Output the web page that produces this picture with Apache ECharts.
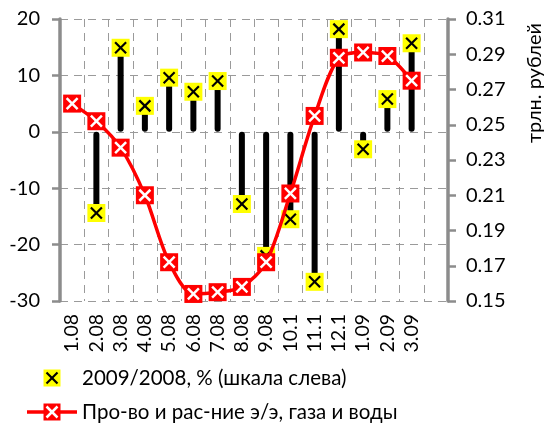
<!DOCTYPE html>
<html>
<head>
<meta charset="utf-8">
<script src="https://cdn.jsdelivr.net/npm/echarts@6/dist/echarts.min.js"></script>
<style>
  html, body { margin: 0; padding: 0; background: #fff; }
  #chart { width: 545px; height: 425px; }
</style>
</head>
<body>
<div id="chart"></div>
<script>
// Months (the last slot is an empty category, as in the original layout)
const months = ['1.08', '2.08', '3.08', '4.08', '5.08', '6.08', '7.08', '8.08',
                '9.08', '10.1', '11.1', '12.1', '1.09', '2.09', '3.09', ''];

// Year-over-year change, % (left scale)
const yoyPercent = [null, -14.4, 14.9, 4.6, 9.6, 7.1, 9.0, -12.8,
                    -22.0, -15.5, -26.6, 18.2, -3.1, 5.8, 15.7, null];

// Production and distribution of electricity, gas and water, trillion roubles (right scale)
const output = [0.262, 0.252, 0.237, 0.210, 0.172, 0.154, 0.155, 0.158,
                0.172, 0.211, 0.255, 0.288, 0.291, 0.289, 0.275, null];

// Axis ranges
const leftMin = -30, leftMax = 20, leftStep = 10;
const rightMin = 0.15, rightMax = 0.31, rightStep = 0.02;

const FONT = 'Lato';
const AXIS_GRAY = '#8c8c8c';
const GRID_GRAY = '#9a9a9a';

// Square marker with a cross inside, drawn at a data point
function crossMarker(fill, crossColor, crossWidth) {
  return function (params, api) {
    const v = api.value(1);
    if (v === null || v === undefined || isNaN(v)) return;
    const p = api.coord([api.value(0), v]);
    const h = 9, c = 5.5;
    return {
      type: 'group',
      children: [
        { type: 'rect', shape: { x: p[0] - h, y: p[1] - h, width: 2 * h, height: 2 * h }, style: { fill: fill } },
        { type: 'line', shape: { x1: p[0] - c, y1: p[1] - c, x2: p[0] + c, y2: p[1] + c }, style: { stroke: crossColor, lineWidth: crossWidth } },
        { type: 'line', shape: { x1: p[0] - c, y1: p[1] + c, x2: p[0] + c, y2: p[1] - c }, style: { stroke: crossColor, lineWidth: crossWidth } }
      ]
    };
  };
}

// Legend swatch (same square-with-cross look)
function swatch(x, y, fill, crossColor, crossWidth) {
  const h = 8.5, c = 5.5;
  return [
    { type: 'rect', shape: { x: x - h, y: y - h, width: 2 * h, height: 2 * h }, style: { fill: fill }, z: 20 },
    { type: 'line', shape: { x1: x - c, y1: y - c, x2: x + c, y2: y + c }, style: { stroke: crossColor, lineWidth: crossWidth }, z: 21 },
    { type: 'line', shape: { x1: x - c, y1: y + c, x2: x + c, y2: y - c }, style: { stroke: crossColor, lineWidth: crossWidth }, z: 21 }
  ];
}

const chart = echarts.init(document.getElementById('chart'), null, { renderer: 'canvas' });

const option = {
  animation: false,
  backgroundColor: '#fff',
  textStyle: { fontFamily: FONT },
  grid: { left: 60, right: 97, top: 19, bottom: 124, containLabel: false },
  xAxis: {
    type: 'category',
    data: months,
    boundaryGap: true,
    axisLine: { show: false },
    axisTick: { show: false },
    axisLabel: {
      interval: 0, rotate: 90, margin: 13,
      fontFamily: FONT, fontSize: 19.5, color: '#000'
    },
    splitLine: {
      show: true, interval: 0,
      lineStyle: { color: GRID_GRAY, width: 1, type: [8, 6] }
    }
  },
  yAxis: [
    {
      type: 'value',
      min: leftMin, max: leftMax, interval: leftStep,
      position: 'left',
      axisLine: { show: true, lineStyle: { color: AXIS_GRAY, width: 3.5 } },
      axisTick: { show: true, length: 8, lineStyle: { color: AXIS_GRAY, width: 2.5 } },
      axisLabel: { margin: 20, fontFamily: FONT, fontSize: 20, color: '#000' },
      splitLine: { show: true, lineStyle: { color: GRID_GRAY, width: 1, type: [8, 6] } }
    },
    {
      type: 'value',
      min: rightMin, max: rightMax, interval: rightStep,
      position: 'right',
      axisLine: { show: true, lineStyle: { color: AXIS_GRAY, width: 3.5 } },
      axisTick: { show: true, length: 8, lineStyle: { color: AXIS_GRAY, width: 2.5 } },
      axisLabel: {
        margin: 18, fontFamily: FONT, fontSize: 20, color: '#000',
        formatter: v => v.toFixed(2)
      },
      splitLine: { show: false }
    }
  ],
  series: [
    {
      name: 'stems',
      type: 'bar',
      yAxisIndex: 0,
      data: yoyPercent,
      barWidth: 6,
      itemStyle: { color: '#000', borderRadius: 3 },
      z: 2
    },
    {
      name: '2009/2008, % (шкала слева)',
      type: 'custom',
      yAxisIndex: 0,
      data: yoyPercent.map((v, i) => [i, v]),
      encode: { x: 0, y: 1 },
      renderItem: crossMarker('#ffff00', '#000', 2.2),
      z: 3
    },
    {
      name: 'Про-во и рас-ние э/э, газа и воды',
      type: 'line',
      yAxisIndex: 1,
      data: output,
      smooth: 0.3,
      showSymbol: false,
      lineStyle: { color: '#ff0000', width: 3.5 },
      z: 4
    },
    {
      name: 'output markers',
      type: 'custom',
      yAxisIndex: 1,
      data: output.map((v, i) => [i, v]),
      encode: { x: 0, y: 1 },
      renderItem: crossMarker('#ff0000', '#fff', 2.5),
      z: 5
    }
  ],
  graphic: [
    {
      type: 'text', x: 535, y: 83, rotation: Math.PI / 2,
      style: {
        text: 'трлн. рублей', fontFamily: FONT, fontSize: 20, fill: '#000',
        textAlign: 'center', textVerticalAlign: 'middle'
      }
    },
    ...swatch(52, 378, '#ffff00', '#000', 2.2),
    {
      type: 'text', x: 82, y: 378,
      style: {
        text: '2009/2008, % (шкала слева)', fontFamily: FONT, fontSize: 20.5, fill: '#000',
        textVerticalAlign: 'middle'
      }
    },
    { type: 'line', shape: { x1: 27, y1: 412, x2: 77, y2: 412 }, style: { stroke: '#ff0000', lineWidth: 3.5 }, z: 19 },
    ...swatch(52, 412, '#ff0000', '#fff', 2.5),
    {
      type: 'text', x: 82, y: 412,
      style: {
        text: 'Про-во и рас-ние э/э, газа и воды', fontFamily: FONT, fontSize: 20.5, fill: '#000',
        textVerticalAlign: 'middle'
      }
    }
  ]
};

chart.setOption(option);
</script>
</body>
</html>
